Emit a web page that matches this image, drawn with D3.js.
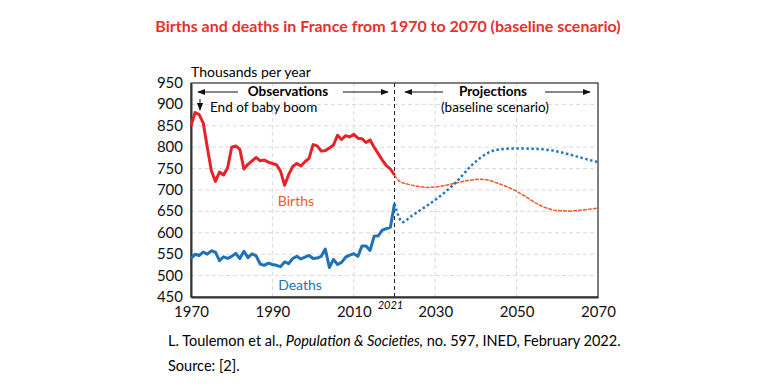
<!DOCTYPE html>
<html>
<head>
<meta charset="utf-8">
<script src="https://cdnjs.cloudflare.com/ajax/libs/d3/7.8.5/d3.min.js"></script>
<style>
  body { margin: 0; background: #fff; }
  svg { display: block; font-family: Lato, "Open Sans", sans-serif; }
</style>
</head>
<body>
<div id="chart"></div>
<script>
// observed years 1970-2020
var obsYears = d3.range(1970, 2021);
var birthsObs = [850, 881, 876, 857, 800, 745, 720, 742, 735, 752,
  800, 803, 795, 749, 760, 768, 776, 768, 770, 765,
  762, 759, 744, 711, 736, 755, 762, 756, 766, 774,
  806, 803, 791, 792, 798, 805, 828, 818, 827, 824,
  830, 821, 820, 811, 817, 800, 785, 770, 757, 749, 735];
var deathsObs = [540, 550, 547, 555, 550, 558, 555, 535, 544, 540,
  545, 552, 540, 557, 542, 551, 546, 527, 524, 529,
  526, 524, 521, 532, 528, 540, 545, 539, 543, 547,
  540, 541, 545, 562, 519, 538, 526, 531, 543, 548,
  551, 545, 569, 569, 559, 592, 593, 606, 610, 613, 668];

// projections (baseline scenario)
var birthsProjYears = [2020, 2021, 2022, 2024, 2026, 2028, 2030, 2032, 2035, 2038, 2041, 2043, 2045, 2048, 2050, 2052, 2055, 2058, 2060, 2063, 2066, 2070];
var birthsProj = [735, 722, 717, 712, 708, 706, 707, 710, 716, 722, 725, 723, 717, 706, 697, 686, 668, 656, 652, 651, 653, 658];
var deathsProjYears = [2020, 2022, 2024, 2027, 2031, 2035, 2039, 2043, 2047, 2050, 2055, 2059, 2063, 2066, 2070];
var deathsProj = [668, 625, 638, 657, 684, 717, 758, 787, 796, 797, 796, 792, 783, 775, 765];

var yTicks = d3.range(450, 951, 50);
var xTicks = [1970, 1990, 2010, 2030, 2050, 2070];
var splitYear = 2020;

var W = 770, H = 388;
var svg = d3.select("#chart").append("svg").attr("width", W).attr("height", H);

var x = d3.scaleLinear().domain([1970, 2070]).range([191, 598]);
var y = d3.scaleLinear().domain([450, 950]).range([297, 83]);

//title
svg.append("text")
  .attr("x", 388).attr("y", 32)
  .attr("text-anchor", "middle")
  .style("font-size", "16px").style("font-weight", "bold")
  .style("fill", "#e8302e")
  .text("Births and deaths in France from 1970 to 2070 (baseline scenario)");

//grid
var grid = svg.append("g");
grid.selectAll(".hg").data(yTicks.slice(1, -1)).enter().append("line")
  .attr("x1", x(1970)).attr("x2", x(2070))
  .attr("y1", function(d){ return y(d); }).attr("y2", function(d){ return y(d); })
  .style("stroke", "#d9d9d9").style("stroke-dasharray", "4,3");
grid.selectAll(".vg").data(xTicks.slice(1, -1)).enter().append("line")
  .attr("x1", function(d){ return x(d); }).attr("x2", function(d){ return x(d); })
  .attr("y1", y(950)).attr("y2", y(450))
  .style("stroke", "#d9d9d9").style("stroke-dasharray", "4,3");

//frame
svg.append("rect")
  .attr("x", x(1970)).attr("y", y(950))
  .attr("width", x(2070) - x(1970)).attr("height", y(450) - y(950))
  .style("fill", "none").style("stroke", "#000").style("stroke-width", 1);

//axes
var yAxis = svg.append("g").attr("transform", "translate(" + x(1970) + ",0)")
  .call(d3.axisLeft(y).tickValues(yTicks).tickSize(0).tickPadding(8));
var xAxis = svg.append("g").attr("transform", "translate(0," + y(450) + ")")
  .call(d3.axisBottom(x).tickValues(xTicks).tickSize(0).tickPadding(9).tickFormat(d3.format("d")));
[yAxis, xAxis].forEach(function(a){
  a.select(".domain").style("stroke", "#333").style("stroke-width", 2);
  a.selectAll("text").style("font-size", "15px").style("fill", "#111").style("font-family", "Lato, sans-serif");
});
yAxis.selectAll("text").attr("dy", "0.3em");

//observation / projection split
svg.append("line")
  .attr("x1", x(splitYear)).attr("x2", x(splitYear))
  .attr("y1", y(950)).attr("y2", y(450))
  .style("stroke", "#222").style("stroke-dasharray", "4,3");
svg.append("text")
  .attr("x", x(splitYear) - 4).attr("y", y(450) + 12)
  .attr("text-anchor", "middle")
  .style("font-size", "11px").style("font-style", "italic")
  .text("2021");

//lines
var line = d3.line().x(function(d){ return x(d[0]); }).y(function(d){ return y(d[1]); });
var smooth = d3.line().curve(d3.curveMonotoneX).x(function(d){ return x(d[0]); }).y(function(d){ return y(d[1]); });

svg.append("path")
  .datum(birthsProjYears.map(function(yr, i){ return [yr, birthsProj[i]]; }))
  .attr("d", smooth)
  .style("fill", "none").style("stroke", "#f05a28").style("stroke-width", 1.5).style("stroke-dasharray", "4,1");
svg.append("path")
  .datum(deathsProjYears.map(function(yr, i){ return [yr, deathsProj[i]]; }))
  .attr("d", smooth)
  .style("fill", "none").style("stroke", "#1f78c1").style("stroke-width", 2.5).style("stroke-dasharray", "2.5,2.5");
svg.append("path")
  .datum(obsYears.map(function(yr, i){ return [yr, birthsObs[i]]; }))
  .attr("d", line)
  .style("fill", "none").style("stroke", "#e8222a").style("stroke-width", 3).style("stroke-linejoin", "round");
svg.append("path")
  .datum(obsYears.map(function(yr, i){ return [yr, deathsObs[i]]; }))
  .attr("d", line)
  .style("fill", "none").style("stroke", "#1f72b8").style("stroke-width", 3).style("stroke-linejoin", "round");

//labels
svg.append("text").attr("x", 191).attr("y", 77)
  .style("font-size", "14px").text("Thousands per year");
svg.append("text").attr("x", 296).attr("y", 206).attr("text-anchor", "middle")
  .style("font-size", "14px").style("fill", "#f05a28").text("Births");
svg.append("text").attr("x", 300).attr("y", 290).attr("text-anchor", "middle")
  .style("font-size", "14px").style("fill", "#1f72b8").text("Deaths");

// arrow marker
var defs = svg.append("defs");
defs.append("marker").attr("id", "arr")
  .attr("viewBox", "0 0 10 10").attr("refX", 9).attr("refY", 5)
  .attr("markerWidth", 8).attr("markerHeight", 8).attr("orient", "auto-start-reverse")
  .attr("markerUnits", "userSpaceOnUse")
  .append("path").attr("d", "M0,1 L10,5 L0,9 z").style("fill", "#111");

function arrow(x1, y1, x2, y2) {
  svg.append("line").attr("x1", x1).attr("y1", y1).attr("x2", x2).attr("y2", y2)
    .style("stroke", "#111").style("stroke-width", 1).attr("marker-end", "url(#arr)");
}

svg.append("text").attr("x", 288).attr("y", 96).attr("text-anchor", "middle")
  .style("font-size", "13.5px").style("font-weight", "bold").text("Observations");
arrow(238, 92, 198, 92);
arrow(343, 92, 388, 92);

svg.append("text").attr("x", 493).attr("y", 96).attr("text-anchor", "middle")
  .style("font-size", "13.5px").style("font-weight", "bold").text("Projections");
svg.append("text").attr("x", 495).attr("y", 112).attr("text-anchor", "middle")
  .style("font-size", "13.5px").text("(baseline scenario)");
arrow(443, 92, 405, 92);
arrow(545, 92, 590, 92);

arrow(200, 99, 200, 110);
svg.append("text").attr("x", 210).attr("y", 112)
  .style("font-size", "13.5px").text("End of baby boom");

//caption
var cap = svg.append("text").attr("x", 168).attr("y", 346).style("font-size", "14.5px");
cap.append("tspan").text("L. Toulemon et al., ");
cap.append("tspan").style("font-style", "italic").text("Population & Societies,");
cap.append("tspan").text(" no. 597, INED, February 2022.");
svg.append("text").attr("x", 168).attr("y", 371).style("font-size", "14.5px").text("Source: [2].");
</script>
</body>
</html>
